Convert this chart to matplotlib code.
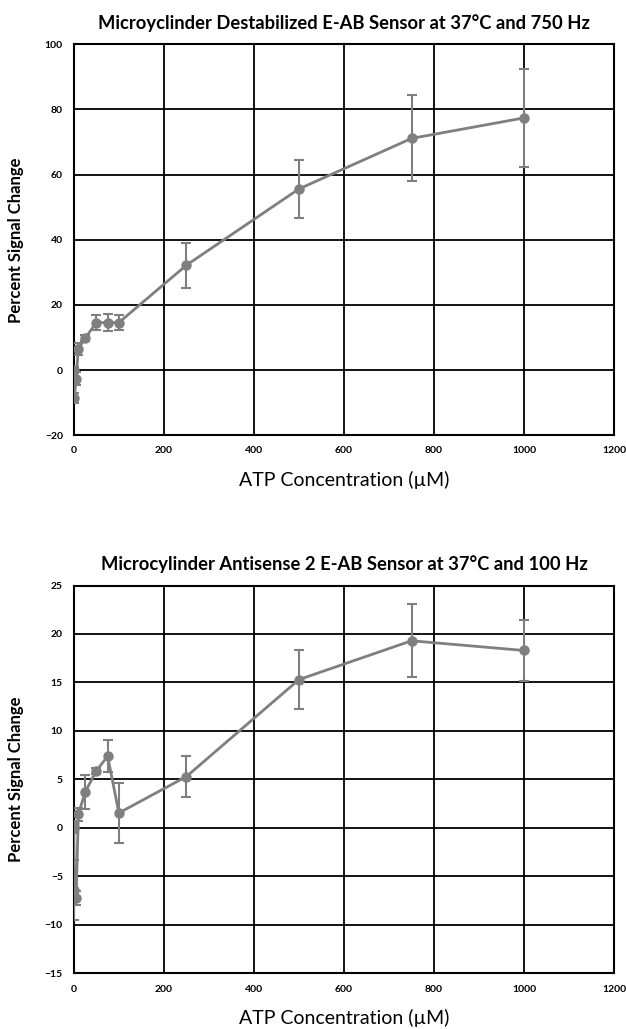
import matplotlib
matplotlib.use("Agg")
import matplotlib.pyplot as plt

plt.rcParams['font.family'] = ['Lato', 'DejaVu Sans']

# Top chart data
conc_top = [0, 1, 5, 10, 25, 50, 75, 100, 250, 500, 750, 1000]
signal_top = [0, -8.6, -2.6, 6.5, 9.8, 14.6, 14.6, 14.6, 32.2, 55.6, 71.1, 77.4]
err_top = [0.8, 1.5, 2.0, 1.8, 1.0, 2.4, 2.5, 2.4, 6.9, 8.8, 13.2, 15.0]

# Bottom chart data
conc_bot = [0, 1, 5, 10, 25, 50, 75, 100, 250, 500, 750, 1000]
signal_bot = [0, -6.4, -7.2, 1.4, 3.7, 5.9, 7.4, 1.55, 5.3, 15.3, 19.3, 18.3]
err_bot = [0.5, 3.1, 0.7, 0.7, 1.75, 0.3, 1.65, 3.05, 2.15, 3.05, 3.75, 3.15]

titles = ["Microyclinder Destabilized E-AB Sensor at 37\u00b0C and 750 Hz",
          "Microcylinder Antisense 2 E-AB Sensor at 37\u00b0C and 100 Hz"]
xticks = [0, 200, 400, 600, 800, 1000, 1200]
yticks_top = [-20, 0, 20, 40, 60, 80, 100]
yticks_bot = [-15, -10, -5, 0, 5, 10, 15, 20, 25]

GRAY = '#7f7f7f'

fig = plt.figure(figsize=(6.26, 10.29), dpi=100)
ax1 = fig.add_axes([0.118, 0.577, 0.863, 0.380])
ax2 = fig.add_axes([0.118, 0.054, 0.863, 0.377])

def style(ax, x, y, e, yticks, title):
    ax.errorbar(x, y, yerr=e, color=GRAY, lw=2, marker='o', ms=6.5,
                ecolor=GRAY, elinewidth=1.5, capsize=3.3, capthick=1.5, zorder=3)
    ax.set_xlim(0, 1200)
    ax.set_ylim(yticks[0], yticks[-1])
    ax.set_xticks(xticks)
    ax.set_yticks(yticks)
    ax.grid(True, color='black', lw=1.3, zorder=0)
    ax.set_axisbelow(True)
    for s in ax.spines.values():
        s.set_color('black')
        s.set_linewidth(1.5)
    ax.tick_params(length=0, labelsize=7.5, pad=8)
    for lab in ax.get_xticklabels() + ax.get_yticklabels():
        lab.set_fontweight('bold')
    ax.set_title(title, fontsize=13.2, fontweight='bold', pad=11)
    ax.set_xlabel("ATP Concentration (\u00b5M)", fontsize=14, labelpad=11)
    ax.set_ylabel("Percent Signal Change", fontsize=12, fontweight='bold', labelpad=15)

style(ax1, conc_top, signal_top, err_top, yticks_top, titles[0])
style(ax2, conc_bot, signal_bot, err_bot, yticks_bot, titles[1])

fig.savefig("out.png", dpi=100, facecolor='white')
